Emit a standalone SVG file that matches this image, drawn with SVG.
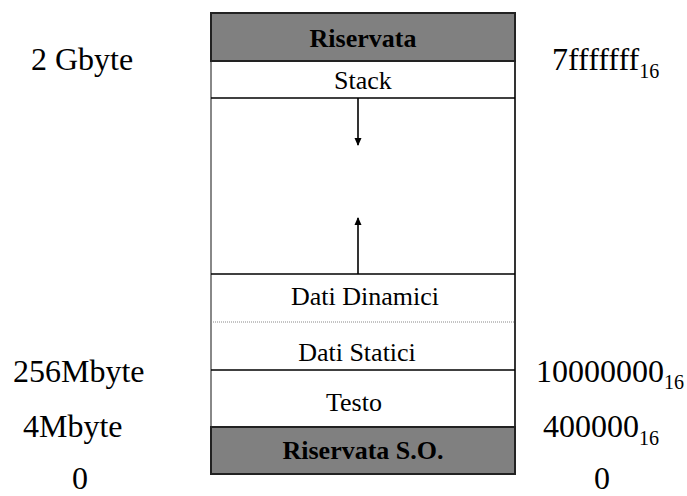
<svg xmlns="http://www.w3.org/2000/svg" width="687" height="496" viewBox="0 0 687 496">
<defs>
<style>
text{font-family:'Liberation Serif',Tinos,'Nimbus Roman','Nimbus Roman No9 L','Times New Roman',Times,'Noto Serif','DejaVu Serif',serif;font-weight:normal}
.lbl{font-size:32px}
.sub{font-size:20px}
.cell{font-size:26px;text-anchor:middle}
.b{font-weight:bold}
.gray{fill:#808080;stroke:#222;stroke-width:2}
.ln{stroke:#000;stroke-width:1.6;fill:none}
</style>
<marker id="ah" viewBox="0 0 8 8" refX="7" refY="4" markerWidth="8" markerHeight="8" markerUnits="userSpaceOnUse" orient="auto">
<path d="M0,0.5 L8,4 L0,7.5 z" fill="#000"/>
</marker>
</defs>
<rect width="687" height="496" fill="#fff"/>
<g id="memory">
<line x1="211" y1="61" x2="211" y2="427" stroke="#888" stroke-width="2"/>
<line x1="515" y1="61" x2="515" y2="427" class="ln"/>
<g id="riservata">
<rect x="211" y="13" width="304" height="48" class="gray"/>
<text x="363" y="47" class="cell b">Riservata</text>
</g>
<g id="stack">
<line x1="211" y1="98" x2="515" y2="98" class="ln"/>
<text x="363" y="89" class="cell">Stack</text>
</g>
<g id="dati-dinamici">
<line x1="211" y1="274" x2="515" y2="274" class="ln"/>
<line x1="211" y1="322" x2="515" y2="322" stroke="#888" stroke-width="1" stroke-dasharray="1 1"/>
<text x="365" y="305" class="cell">Dati Dinamici</text>
</g>
<g id="dati-statici">
<line x1="211" y1="370" x2="515" y2="370" class="ln"/>
<text x="357" y="361" class="cell">Dati Statici</text>
</g>
<g id="testo">
<text x="354" y="411" class="cell">Testo</text>
</g>
<g id="riservata-so">
<rect x="211" y="427" width="304" height="47" class="gray"/>
<text x="363" y="459" class="cell b">Riservata S.O.</text>
</g>
</g>
<g id="connectors">
<line x1="358" y1="98" x2="358" y2="145" class="ln" marker-end="url(#ah)"/>
<line x1="358" y1="274" x2="358" y2="218" class="ln" marker-end="url(#ah)"/>
</g>
<g id="labels-left">
<text x="31" y="70" class="lbl">2 Gbyte</text>
<text x="13" y="382" class="lbl">256Mbyte</text>
<text x="23" y="437" class="lbl">4Mbyte</text>
<text x="72" y="489" class="lbl">0</text>
</g>
<g id="labels-right">
<text x="552" y="70" class="lbl">7fffffff<tspan class="sub" dy="8">16</tspan></text>
<text x="536" y="382" class="lbl">10000000<tspan class="sub" dy="7">16</tspan></text>
<text x="543" y="437" class="lbl">400000<tspan class="sub" dy="8">16</tspan></text>
<text x="594" y="489" class="lbl">0</text>
</g>
</svg>
